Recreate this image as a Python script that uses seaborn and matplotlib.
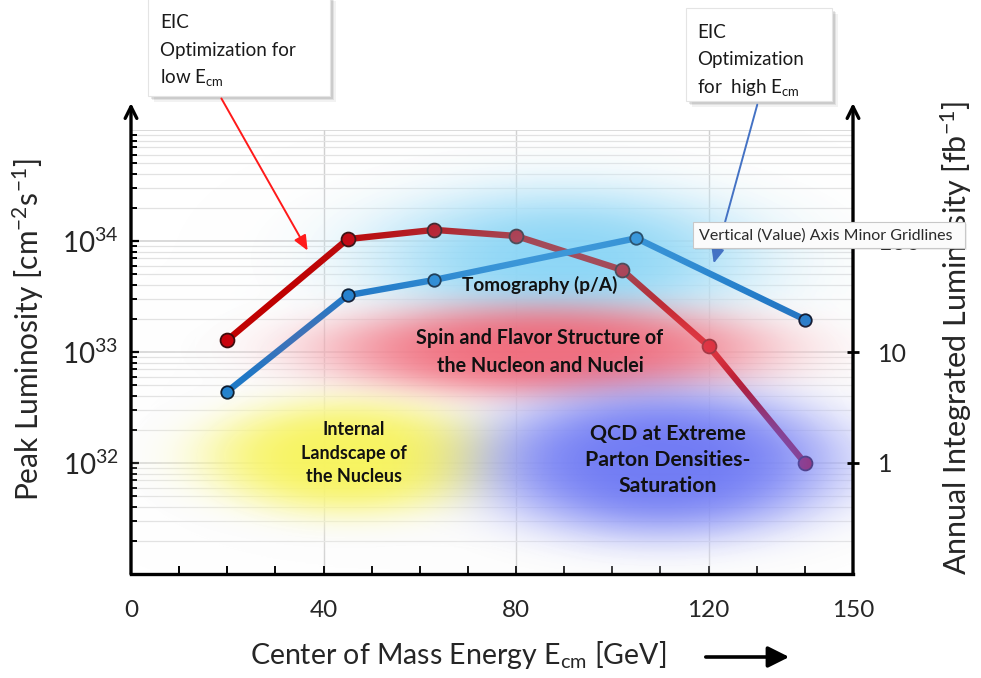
import numpy as np
import matplotlib
matplotlib.use("Agg")
import matplotlib.pyplot as plt
import seaborn as sns
from matplotlib.ticker import FixedLocator, NullFormatter, LogLocator, NullLocator
from matplotlib.patches import Rectangle

# ---------------- data ----------------
energy_low = [20, 45, 63, 80, 102, 120, 140]
lumi_low = [1.28e33, 1.04e34, 1.26e34, 1.11e34, 5.5e33, 1.13e33, 1.0e32]
energy_high = [20, 45, 63, 105, 140]
lumi_high = [4.4e32, 3.24e33, 4.46e33, 1.06e34, 1.96e33]

x_ticks = [0, 40, 80, 120, 150]
x_tick_labels = ["0", "40", "80", "120", "150"]
y_ticks = [1e32, 1e33, 1e34]
y_tick_labels = [r"$\mathregular{10^{32}}$", r"$\mathregular{10^{33}}$", r"$\mathregular{10^{34}}$"]
y2_ticks = [1, 10, 100]
y2_tick_labels = ["1", "10", "100"]

regions = ["Tomography (p/A)",
           "Spin and Flavor Structure of\nthe Nucleon and Nuclei",
           "Internal\nLandscape of\nthe Nucleus",
           "QCD at Extreme\nParton Densities-\nSaturation"]

# ---------------- style ----------------
sns.set_theme(style="white")
plt.rcParams["font.family"] = ["Lato", "DejaVu Sans"]
plt.rcParams["mathtext.fontset"] = "custom"
plt.rcParams["mathtext.rm"] = "Lato"
plt.rcParams["mathtext.it"] = "Lato:italic"
plt.rcParams["mathtext.bf"] = "Lato:bold"

W, H = 981, 678
fig = plt.figure(figsize=(W / 100, H / 100), dpi=100)
fig.patch.set_facecolor("white")

AX_L, AX_R, AX_T, AX_B = 131, 853, 130, 574
ax = fig.add_axes([AX_L / W, 1 - AX_B / H, (AX_R - AX_L) / W, (AX_B - AX_T) / H])
ax.set_facecolor("none")
ax.set_yscale("log")


def fx(x):
    return x / W


def fy(y):
    return 1 - y / H


# ---------------- lines ----------------
sns.lineplot(x=energy_low, y=lumi_low, ax=ax, color="#c00000", lw=4.6, sort=False,
             marker="o", markersize=10, markerfacecolor="#c8000a",
             markeredgecolor="#3a0a0a", markeredgewidth=1.3, zorder=3)
sns.lineplot(x=energy_high, y=lumi_high, ax=ax, color="#1c78c8", lw=4.6, sort=False,
             marker="o", markersize=9, markerfacecolor="#1f80d0",
             markeredgecolor="#0a1a30", markeredgewidth=1.3, zorder=3)

ax.set_xlim(0, 150)
ax.set_ylim(1e31, 1e35)

# ---------------- grid ----------------
ax.xaxis.set_major_locator(FixedLocator(x_ticks))
ax.xaxis.set_minor_locator(FixedLocator(list(range(0, 151, 10))))
ax.set_xticklabels(x_tick_labels)
ax.yaxis.set_major_locator(FixedLocator(y_ticks))
ax.set_yticklabels(y_tick_labels)
ax.yaxis.set_minor_locator(LogLocator(base=10, subs=np.arange(2, 10), numticks=20))
ax.yaxis.set_minor_formatter(NullFormatter())

for v in [40, 80, 120]:
    ax.axvline(v, color="#d0d0d0", lw=1.0, zorder=0.5)
for e in range(31, 36):
    ax.axhline(10.0 ** e, color="#d4d4d4", lw=1.2, zorder=0.5)
    if e < 35:
        for s in range(2, 10):
            ax.axhline(s * 10.0 ** e, color="#e2e2e2", lw=0.9, zorder=0.5)

# ---------------- blobs ----------------
gw, gh = AX_R - AX_L, AX_B - AX_T
XX, YY = np.meshgrid(np.arange(gw) + AX_L + 0.5, np.arange(gh) + AX_T + 0.5)


def shape(cx, cy, rx, ry, p):
    r2 = ((XX - cx) / rx) ** 2 + ((YY - cy) / ry) ** 2
    return np.exp(-(r2 ** (p / 2.0)))


def composite(layers):
    prem = np.zeros((gh, gw, 3))
    a_out = np.zeros((gh, gw))
    for rgb, a in layers:
        c = np.array(rgb) / 255.0
        prem = c[None, None, :] * a[..., None] + prem * (1 - a[..., None])
        a_out = a + a_out * (1 - a)
    rgb_out = np.where(a_out[..., None] > 1e-6, prem / np.maximum(a_out[..., None], 1e-6), 1.0)
    return np.dstack([np.clip(rgb_out, 0, 1), np.clip(a_out, 0, 1)])


blob_specs = [
    # cx, cy, rx, ry, color, alpha, p
    (565, 258, 175, 64, (115, 205, 245), 0.38, 2.6),
    (545, 350, 222, 47, (240, 88, 106), 0.85, 3.4),
    (348, 457, 142, 57, (248, 244, 80), 0.90, 3.6),
    (662, 462, 180, 75, (98, 110, 244), 0.90, 3.6),
]

halo_layers = []
for cx, cy, rx, ry, col, al, p in blob_specs:
    halo_layers.append(((150, 150, 150), 0.05 * shape(cx, cy + 6, rx * 1.25, ry * 1.45, 2.4)))
for cx, cy, rx, ry, col, al, p in blob_specs:
    halo_layers.append(((255, 255, 255), 0.80 * shape(cx, cy, rx * 1.2, ry * 1.35, 2.8)))
# light-blue glow underneath the curves
halo_layers.append(((120, 208, 246), 0.70 * shape(565, 258, 175, 64, 2.6)))
halo = composite(halo_layers)

col_layers = [(col, al * shape(cx, cy, rx, ry, p)) for cx, cy, rx, ry, col, al, p in blob_specs]
colored = composite(col_layers)

ax.imshow(halo, extent=[0, 1, 0, 1], transform=ax.transAxes, aspect="auto",
          zorder=1, interpolation="bilinear", origin="upper")
ax.imshow(colored, extent=[0, 1, 0, 1], transform=ax.transAxes, aspect="auto",
          zorder=4, interpolation="bilinear", origin="upper")
ax.set_xlim(0, 150)
ax.set_ylim(1e31, 1e35)

# region texts
text_specs = [(540, 285, 13.7, 1.3), (540, 352, 14.2, 1.55), (354, 453, 13.0, 1.45), (668, 460, 15.3, 1.4)]
for txt, (px, py, fs, ls) in zip(regions, text_specs):
    ax.text((px - AX_L) / gw, (AX_B - py) / gh, txt, transform=ax.transAxes,
            ha="center", va="center", fontsize=fs, fontweight="bold", color="#111111",
            linespacing=ls, zorder=6)

# ---------------- axes, ticks ----------------
for s in ["top", "left", "right"]:
    ax.spines[s].set_visible(False)
ax.spines["bottom"].set_color("black")
ax.spines["bottom"].set_linewidth(2.4)
ax.spines["bottom"].set_zorder(7)

ax.tick_params(axis="x", which="both", direction="in", length=6, width=1.4, color="black",
               pad=19, labelsize=17.5, bottom=True)
ax.tick_params(axis="y", which="major", direction="in", length=6, width=1.6, color="black",
               pad=9, labelsize=20, left=True)
ax.tick_params(axis="y", which="minor", direction="in", length=4, width=1.4, color="black", left=True)

# vertical axis arrows
ext = (AX_B - 103) / gh
for xa in [0, 1]:
    ax.annotate("", xy=(xa, ext), xytext=(xa, 0), xycoords="axes fraction",
                textcoords="axes fraction",
                arrowprops=dict(arrowstyle="->,head_length=0.7,head_width=0.35",
                                color="black", lw=2.4, shrinkA=0, shrinkB=0),
                annotation_clip=False, zorder=8)

ax2 = ax.twinx()
ax2.set_yscale("log")
ax2.set_ylim(0.1, 1000)
for s in ax2.spines.values():
    s.set_visible(False)
ax2.yaxis.set_major_locator(FixedLocator(y2_ticks))
ax2.set_yticklabels(y2_tick_labels)
ax2.yaxis.set_minor_locator(NullLocator())
ax2.tick_params(axis="y", which="major", direction="inout", length=8, width=2.0, color="black",
                pad=14, labelsize=18, right=True)
ax2.grid(False)
ax.grid(False)

# axis labels
fig.text(fx(28), fy(330), r"Peak Luminosity [cm$^{\mathregular{-2}}$s$^{\mathregular{-1}}$]",
         rotation=90, ha="center", va="center", fontsize=21.5)
fig.text(fx(956), fy(338), r"Annual Integrated Luminosity [fb$^{\mathregular{-1}}$]",
         rotation=90, ha="center", va="center", fontsize=22)
fig.text(fx(458), fy(655), r"Center of Mass Energy E$_{\mathregular{cm}}$ [GeV]",
         ha="center", va="center", fontsize=20.5)
fig.patches.append(matplotlib.patches.FancyArrowPatch(
    (fx(703), fy(657)), (fx(792), fy(657)), transform=fig.transFigure,
    arrowstyle="-|>,head_length=8,head_width=4", mutation_scale=1.6,
    color="black", lw=2.6))

# ---------------- callout boxes ----------------
def callout(x0, y0, x1, y1, lines, tx, ty, spacing):
    for i, (off, a) in enumerate([(6, 0.05), (4, 0.07), (2.5, 0.09)]):
        fig.patches.append(Rectangle((fx(x0 + off), fy(y1 + off)), (x1 - x0) / W, (y1 - y0) / H,
                                     transform=fig.transFigure, facecolor="black", alpha=a,
                                     edgecolor="none", zorder=9))
    fig.patches.append(Rectangle((fx(x0), fy(y1)), (x1 - x0) / W, (y1 - y0) / H,
                                 transform=fig.transFigure, facecolor="white",
                                 edgecolor="#e4e4e4", lw=0.8, zorder=10))
    for i, ln in enumerate(lines):
        fig.text(fx(tx), fy(ty + i * spacing), ln, ha="left", va="center",
                 fontsize=13.5, color="#1a1a1a", zorder=11)


callout(148, -5, 330, 96, ["EIC", "Optimization for", r"low E$_{\mathregular{cm}}$"], 160, 23, 27.5)
callout(686, 8, 832, 101, ["EIC", "Optimization", r"for  high E$_{\mathregular{cm}}$"], 697, 32, 27.5)

fig.patches.append(matplotlib.patches.FancyArrowPatch(
    (fx(220), fy(96)), (fx(309), fy(253)), transform=fig.transFigure,
    arrowstyle="-|>,head_length=6,head_width=2.6", mutation_scale=1.5,
    color="#ff1a1a", lw=1.4, zorder=9))
fig.patches.append(matplotlib.patches.FancyArrowPatch(
    (fx(758), fy(102)), (fx(713), fy(266)), transform=fig.transFigure,
    arrowstyle="-|>,head_length=6,head_width=2.6", mutation_scale=1.5,
    color="#4472c4", lw=1.4, zorder=9))

# tooltip
fig.patches.append(Rectangle((fx(695), fy(250)), 272 / W, 26 / H, transform=fig.transFigure,
                             facecolor="black", alpha=0.06, edgecolor="none", zorder=12))
fig.patches.append(Rectangle((fx(693), fy(248)), 272 / W, 26 / H, transform=fig.transFigure,
                             facecolor="#fbfbfb", edgecolor="#c8c8c8", lw=0.8, zorder=13))
fig.text(fx(699), fy(235.5), "Vertical (Value) Axis Minor Gridlines", ha="left", va="center",
         fontsize=11.5, color="#2a2a2a", zorder=14)

fig.savefig("out.png", dpi=100, facecolor="white")
